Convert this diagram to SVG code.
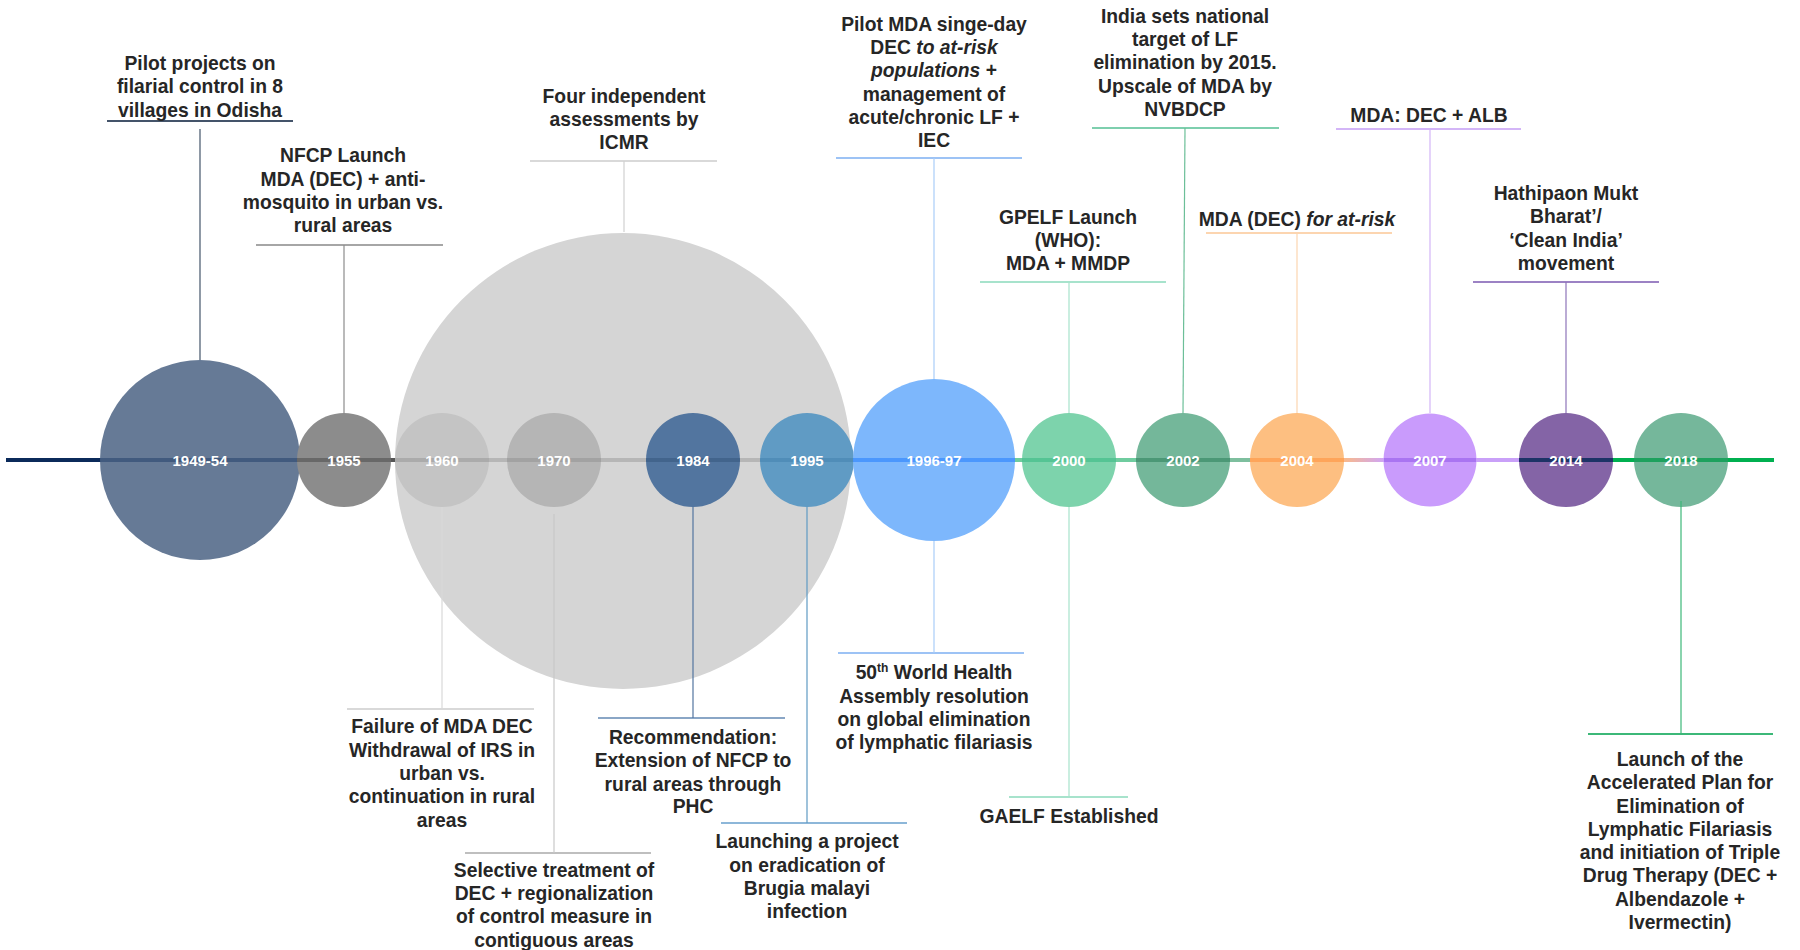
<svg xmlns="http://www.w3.org/2000/svg" width="1800" height="950" viewBox="0 0 1800 950">
<defs>
<style>
.lbl{font-family:"Liberation Sans",Arial,sans-serif;font-weight:bold;font-size:19.3px;fill:#262626;text-anchor:middle}
.yr{font-family:"Liberation Sans",Arial,sans-serif;font-weight:bold;font-size:15px;fill:#ffffff;text-anchor:middle}
.ul{stroke-width:2;fill:none}
.ax{stroke-width:4;fill:none}
.band{stroke-width:4;fill:none}
.cn{stroke-width:1.2;fill:none}
</style>
<linearGradient id="gPeach" gradientUnits="userSpaceOnUse" x1="1344" y1="0" x2="1384" y2="0">
<stop offset="0" stop-color="#f9b98a"/><stop offset="1" stop-color="#cfa6f6"/>
</linearGradient>
</defs>
<rect width="1800" height="950" fill="#ffffff"/>

<g id="axis">
<path class="ax" stroke="#0b2a5a" d="M6 460H200"/>
<path class="ax" stroke="#555555" d="M200 460H396"/>
<path class="ax" stroke="#3d8ef7" d="M851 460H1020"/>
<path class="ax" stroke="#6fcc9f" d="M1015 460H1136"/>
<path class="ax" stroke="#7ebf9e" d="M1136 460H1250"/>
<path class="ax" stroke="url(#gPeach)" d="M1250 460H1384"/>
<path class="ax" stroke="#c9a0f8" d="M1384 460H1520"/>
<path class="ax" stroke="#00b050" d="M1520 460H1774"/>
</g>

<g id="n1960s-assess">
<circle cx="623" cy="461" r="228" fill="#d5d5d5"/>
<path class="band" stroke="#888888" stroke-opacity="0.4" d="M396 460H851"/>
<path class="ul" stroke="#d9d9d9" d="M530 161H717"/>
<text class="lbl" x="624"><tspan x="624" y="103">Four independent</tspan><tspan x="624" y="126">assessments by</tspan><tspan x="624" y="149">ICMR</tspan></text>
</g>

<g id="n1949">
<circle cx="200" cy="460" r="100" fill="#667a96"/>
<path class="band" stroke="#0b2a5a" stroke-opacity="0.4" d="M100 460H300"/>
<text class="yr" x="200" y="465.5">1949-54</text>
<path class="ul" stroke="#44546a" d="M107 121H293"/>
<text class="lbl"><tspan x="200" y="70">Pilot projects on</tspan><tspan x="200" y="93.3">filarial control in 8</tspan><tspan x="200" y="116.6">villages in Odisha</tspan></text>
</g>

<g id="n1955">
<circle cx="344" cy="460" r="47" fill="#8c8c8c"/>
<path class="band" stroke="#333333" stroke-opacity="0.4" d="M297 460H391"/>
<text class="yr" x="344" y="465.5">1955</text>
<path class="ul" stroke="#a6a6a6" d="M256 245H443"/>
<text class="lbl"><tspan x="343" y="162">NFCP Launch</tspan><tspan x="343" y="185.5">MDA (DEC) + anti-</tspan><tspan x="343" y="209">mosquito in urban vs.</tspan><tspan x="343" y="232">rural areas</tspan></text>
</g>

<g id="n1960">
<circle cx="442" cy="460" r="47" fill="#c4c4c4"/>
<path class="band" stroke="#888888" stroke-opacity="0.4" d="M395 460H489"/>
<text class="yr" x="442" y="465.5">1960</text>
<path class="ul" stroke="#d9d9d9" d="M347 709H534"/>
<text class="lbl"><tspan x="442" y="733">Failure of MDA DEC</tspan><tspan x="442" y="756.5">Withdrawal of IRS in</tspan><tspan x="442" y="780">urban vs.</tspan><tspan x="442" y="803">continuation in rural</tspan><tspan x="442" y="826.5">areas</tspan></text>
</g>

<g id="n1970">
<circle cx="554" cy="460" r="47" fill="#b5b5b5"/>
<path class="band" stroke="#888888" stroke-opacity="0.4" d="M507 460H601"/>
<text class="yr" x="554" y="465.5">1970</text>
<path class="ul" stroke="#bfbfbf" d="M465 853H651"/>
<text class="lbl"><tspan x="554" y="876.5">Selective treatment of</tspan><tspan x="554" y="900">DEC + regionalization</tspan><tspan x="554" y="923">of control measure in</tspan><tspan x="554" y="946.5">contiguous areas</tspan></text>
</g>

<g id="n1984">
<circle cx="693" cy="460" r="47" fill="#52759f"/>
<path class="band" stroke="#2a4a70" stroke-opacity="0.4" d="M646 460H740"/>
<text class="yr" x="693" y="465.5">1984</text>
<path class="ul" stroke="#8aa6c6" d="M598 718H785"/>
<text class="lbl"><tspan x="693" y="744">Recommendation:</tspan><tspan x="693" y="767">Extension of NFCP to</tspan><tspan x="693" y="790.5">rural areas through</tspan><tspan x="693" y="813">PHC</tspan></text>
</g>

<g id="n1995">
<circle cx="807" cy="460" r="47" fill="#609bc4"/>
<path class="band" stroke="#3a78a8" stroke-opacity="0.4" d="M760 460H854"/>
<text class="yr" x="807" y="465.5">1995</text>
<path class="ul" stroke="#8db7d9" d="M721 823H907"/>
<text class="lbl"><tspan x="807" y="848">Launching a project</tspan><tspan x="807" y="871.5">on eradication of</tspan><tspan x="807" y="895">Brugia malayi</tspan><tspan x="807" y="918">infection</tspan></text>
</g>

<g id="n1996">
<circle cx="934" cy="460" r="81" fill="#7db7fc"/>
<path class="band" stroke="#0066ff" stroke-opacity="0.4" d="M853 460H1015"/>
<text class="yr" x="934" y="465.5">1996-97</text>
<path class="ul" stroke="#9dc3f5" d="M836 158H1022"/>
<text class="lbl"><tspan x="934" y="31">Pilot MDA singe-day</tspan><tspan x="934" y="54">DEC <tspan font-style="italic">to at-risk</tspan></tspan><tspan x="934" y="77"><tspan font-style="italic">populations</tspan> +</tspan><tspan x="934" y="101">management of</tspan><tspan x="934" y="124">acute/chronic LF +</tspan><tspan x="934" y="147">IEC</tspan></text>
<path class="ul" stroke="#9dc3f5" d="M838 653H1024"/>
<text class="lbl"><tspan x="934" y="679">50<tspan font-size="12" dy="-7">th</tspan><tspan dy="7"> World Health</tspan></tspan><tspan x="934" y="702.5">Assembly resolution</tspan><tspan x="934" y="726">on global elimination</tspan><tspan x="934" y="749">of lymphatic filariasis</tspan></text>
</g>

<g id="n2000">
<circle cx="1069" cy="460" r="47" fill="#7dd3ac"/>
<path class="band" stroke="#19b070" stroke-opacity="0.4" d="M1022 460H1116"/>
<text class="yr" x="1069" y="465.5">2000</text>
<path class="ul" stroke="#a7e3cc" d="M980 282H1166"/>
<text class="lbl"><tspan x="1068" y="224">GPELF Launch</tspan><tspan x="1068" y="247">(WHO):</tspan><tspan x="1068" y="270">MDA + MMDP</tspan></text>
<path class="ul" stroke="#a7e3cc" d="M1009 797H1128"/>
<text class="lbl" x="1069" y="823">GAELF Established</text>
</g>

<g id="n2002">
<circle cx="1183" cy="460" r="47" fill="#74b79a"/>
<path class="band" stroke="#0f6a40" stroke-opacity="0.4" d="M1136 460H1230"/>
<text class="yr" x="1183" y="465.5">2002</text>
<path class="ul" stroke="#7ecfae" d="M1092 128H1279"/>
<text class="lbl"><tspan x="1185" y="23">India sets national</tspan><tspan x="1185" y="46">target of LF</tspan><tspan x="1185" y="69">elimination by 2015.</tspan><tspan x="1185" y="92.5">Upscale of MDA by</tspan><tspan x="1185" y="116">NVBDCP</tspan></text>
</g>

<g id="n2004">
<circle cx="1297" cy="460" r="47" fill="#fdbf81"/>
<path class="band" stroke="#ff8020" stroke-opacity="0.4" d="M1250 460H1344"/>
<text class="yr" x="1297" y="465.5">2004</text>
<path class="ul" stroke="#fcd5b0" d="M1206 233H1392"/>
<text class="lbl" x="1297" y="226">MDA (DEC) <tspan font-style="italic">for at-risk</tspan></text>
</g>

<g id="n2007">
<circle cx="1430" cy="460" r="46.5" fill="#c99bfc"/>
<path class="band" stroke="#7a3ae0" stroke-opacity="0.4" d="M1384 460H1476"/>
<text class="yr" x="1430" y="465.5">2007</text>
<path class="ul" stroke="#d3b5f7" d="M1336 129H1521"/>
<text class="lbl" x="1429" y="121.5">MDA: DEC + ALB</text>
</g>

<g id="n2014">
<circle cx="1566" cy="460" r="47" fill="#8464a6"/>
<path class="band" stroke="#0b2a5a" stroke-opacity="0.85" d="M1519 460H1613"/>
<text class="yr" x="1566" y="465.5">2014</text>
<path class="ul" stroke="#9c82c4" d="M1473 282H1659"/>
<text class="lbl"><tspan x="1566" y="200">Hathipaon Mukt</tspan><tspan x="1566" y="223">Bharat’/</tspan><tspan x="1566" y="246.5">‘Clean India’</tspan><tspan x="1566" y="270">movement</tspan></text>
</g>

<g id="n2018">
<circle cx="1681" cy="460" r="47" fill="#75b79b"/>
<path class="band" stroke="#00994a" stroke-opacity="0.75" d="M1634 460H1728"/>
<text class="yr" x="1681" y="465.5">2018</text>
<path class="ul" stroke="#3cb878" d="M1588 734H1773"/>
<text class="lbl"><tspan x="1680" y="766">Launch of the</tspan><tspan x="1680" y="789">Accelerated Plan for</tspan><tspan x="1680" y="812.5">Elimination of</tspan><tspan x="1680" y="836">Lymphatic Filariasis</tspan><tspan x="1680" y="859">and initiation of Triple</tspan><tspan x="1680" y="882">Drug Therapy (DEC +</tspan><tspan x="1680" y="905.5">Albendazole +</tspan><tspan x="1680" y="929">Ivermectin)</tspan></text>
</g>

<g id="connectors">
<path class="cn" stroke="#44546a" d="M200 129V360"/>
<path class="cn" stroke="#8c8c8c" d="M344 245V413"/>
<path class="cn" stroke="#d0d0d0" d="M624 161V232"/>
<path class="cn" stroke="#a9cdf8" d="M934 158V379"/>
<path class="cn" stroke="#6cbf98" d="M1185 128L1183 413"/>
<path class="cn" stroke="#d3b5f7" d="M1430 129V413"/>
<path class="cn" stroke="#a7e3cc" d="M1069 282V413"/>
<path class="cn" stroke="#fcd5b0" d="M1297 233V413"/>
<path class="cn" stroke="#8e74b9" d="M1566 282V413"/>
<path class="cn" stroke="#d9d9d9" d="M442 507V709"/>
<path class="cn" stroke="#c8c8c8" d="M554 514V853"/>
<path class="cn" stroke="#52759f" d="M693 507V718"/>
<path class="cn" stroke="#5f9ac3" d="M807 507V823"/>
<path class="cn" stroke="#a9cdf8" d="M934 541V653"/>
<path class="cn" stroke="#a7e3cc" d="M1069 507V797"/>
<path class="cn" stroke="#3cb878" d="M1681 501V734"/>
</g>
</svg>
